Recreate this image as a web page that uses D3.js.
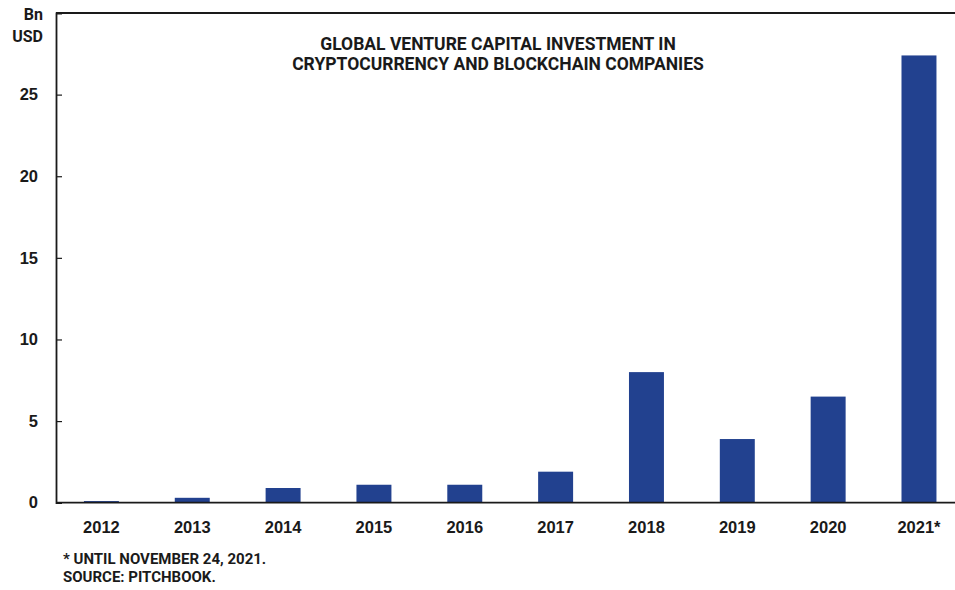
<!DOCTYPE html>
<html>
<head>
<meta charset="utf-8">
<script src="https://cdn.jsdelivr.net/npm/d3@7"></script>
<style>
  html, body { margin: 0; padding: 0; background: #fff; }
  svg { display: block; font-family: Roboto, "Liberation Sans", sans-serif; }
</style>
</head>
<body>
<svg id="chart" width="955" height="590"></svg>
<script>
// Global VC investment in crypto / blockchain companies, billions of USD
const years = ["2012", "2013", "2014", "2015", "2016", "2017", "2018", "2019", "2020", "2021*"];
const investment = [0.1, 0.3, 0.9, 1.1, 1.1, 1.9, 8.0, 3.9, 6.5, 27.4];
const yTicks = [0, 5, 10, 15, 20, 25];
const titleLines = ["GLOBAL VENTURE CAPITAL INVESTMENT IN", "CRYPTOCURRENCY AND BLOCKCHAIN COMPANIES"];
const unitLines = ["Bn", "USD"];
const noteLines = ["* UNTIL NOVEMBER 24, 2021.", "SOURCE: PITCHBOOK."];

const W = 955, H = 590;
const plot = { left: 56, right: 955, top: 13, bottom: 502.7 };
const barColor = "#22418f";
const ink = "#1a1a1a";

const svg = d3.select("#chart");

const x = d3.scaleBand()
  .domain(years)
  .range([plot.left, 964.4])
  .paddingInner(0.615)
  .paddingOuter(0.3075);

const y = d3.scaleLinear()
  .domain([0, 30])
  .range([plot.bottom, plot.top]);

// bars
svg.append("g")
  .selectAll("rect")
  .data(years.map((yr, i) => ({ yr, v: investment[i] })))
  .join("rect")
  .attr("x", d => x(d.yr))
  .attr("width", x.bandwidth())
  .attr("y", d => y(d.v))
  .attr("height", d => y(0) - y(d.v))
  .attr("fill", barColor);

// frame: top rule and baseline
const frame = svg.append("g").attr("stroke", ink).attr("stroke-width", 1.8).attr("fill", "none");
frame.append("line").attr("x1", plot.left).attr("x2", plot.right).attr("y1", plot.top).attr("y2", plot.top);
frame.append("line").attr("x1", plot.left).attr("x2", plot.right).attr("y1", y(0)).attr("y2", y(0));

// y axis with inward ticks
const yAxis = svg.append("g")
  .attr("transform", `translate(${plot.left},0)`)
  .call(d3.axisLeft(y).tickValues(yTicks).tickSize(-6).tickPadding(18).tickFormat(d3.format("d")));
yAxis.select(".domain").attr("stroke", ink).attr("stroke-width", 1.8);
yAxis.selectAll(".tick line").attr("stroke", ink).attr("stroke-width", 1.2);
yAxis.selectAll(".tick text")
  .attr("fill", ink)
  .style("font-size", "16.5px")
  .style("font-weight", 700);

// x axis labels
const xAxis = svg.append("g")
  .attr("transform", `translate(0,${plot.bottom})`)
  .call(d3.axisBottom(x).tickSize(0).tickPadding(19));
xAxis.select(".domain").remove();
xAxis.selectAll(".tick text")
  .attr("fill", ink)
  .style("font-size", "16.5px")
  .style("font-weight", 700);

// unit label
svg.append("g")
  .selectAll("text")
  .data(unitLines)
  .join("text")
  .attr("x", 43)
  .attr("y", (d, i) => 20 + i * 21.5)
  .attr("text-anchor", "end")
  .attr("fill", ink)
  .style("font-size", "16px")
  .style("font-weight", 700)
  .text(d => d);

// title
svg.append("g")
  .selectAll("text")
  .data(titleLines)
  .join("text")
  .attr("x", 498)
  .attr("y", (d, i) => 50 + i * 20)
  .attr("text-anchor", "middle")
  .attr("fill", ink)
  .style("font-size", "17.5px")
  .style("font-weight", 700)
  .text(d => d);

// notes
svg.append("g")
  .selectAll("text")
  .data(noteLines)
  .join("text")
  .attr("x", 63)
  .attr("y", (d, i) => 564 + i * 17.7)
  .attr("fill", ink)
  .style("font-size", "15px")
  .style("font-weight", 700)
  .text(d => d);
</script>
</body>
</html>
